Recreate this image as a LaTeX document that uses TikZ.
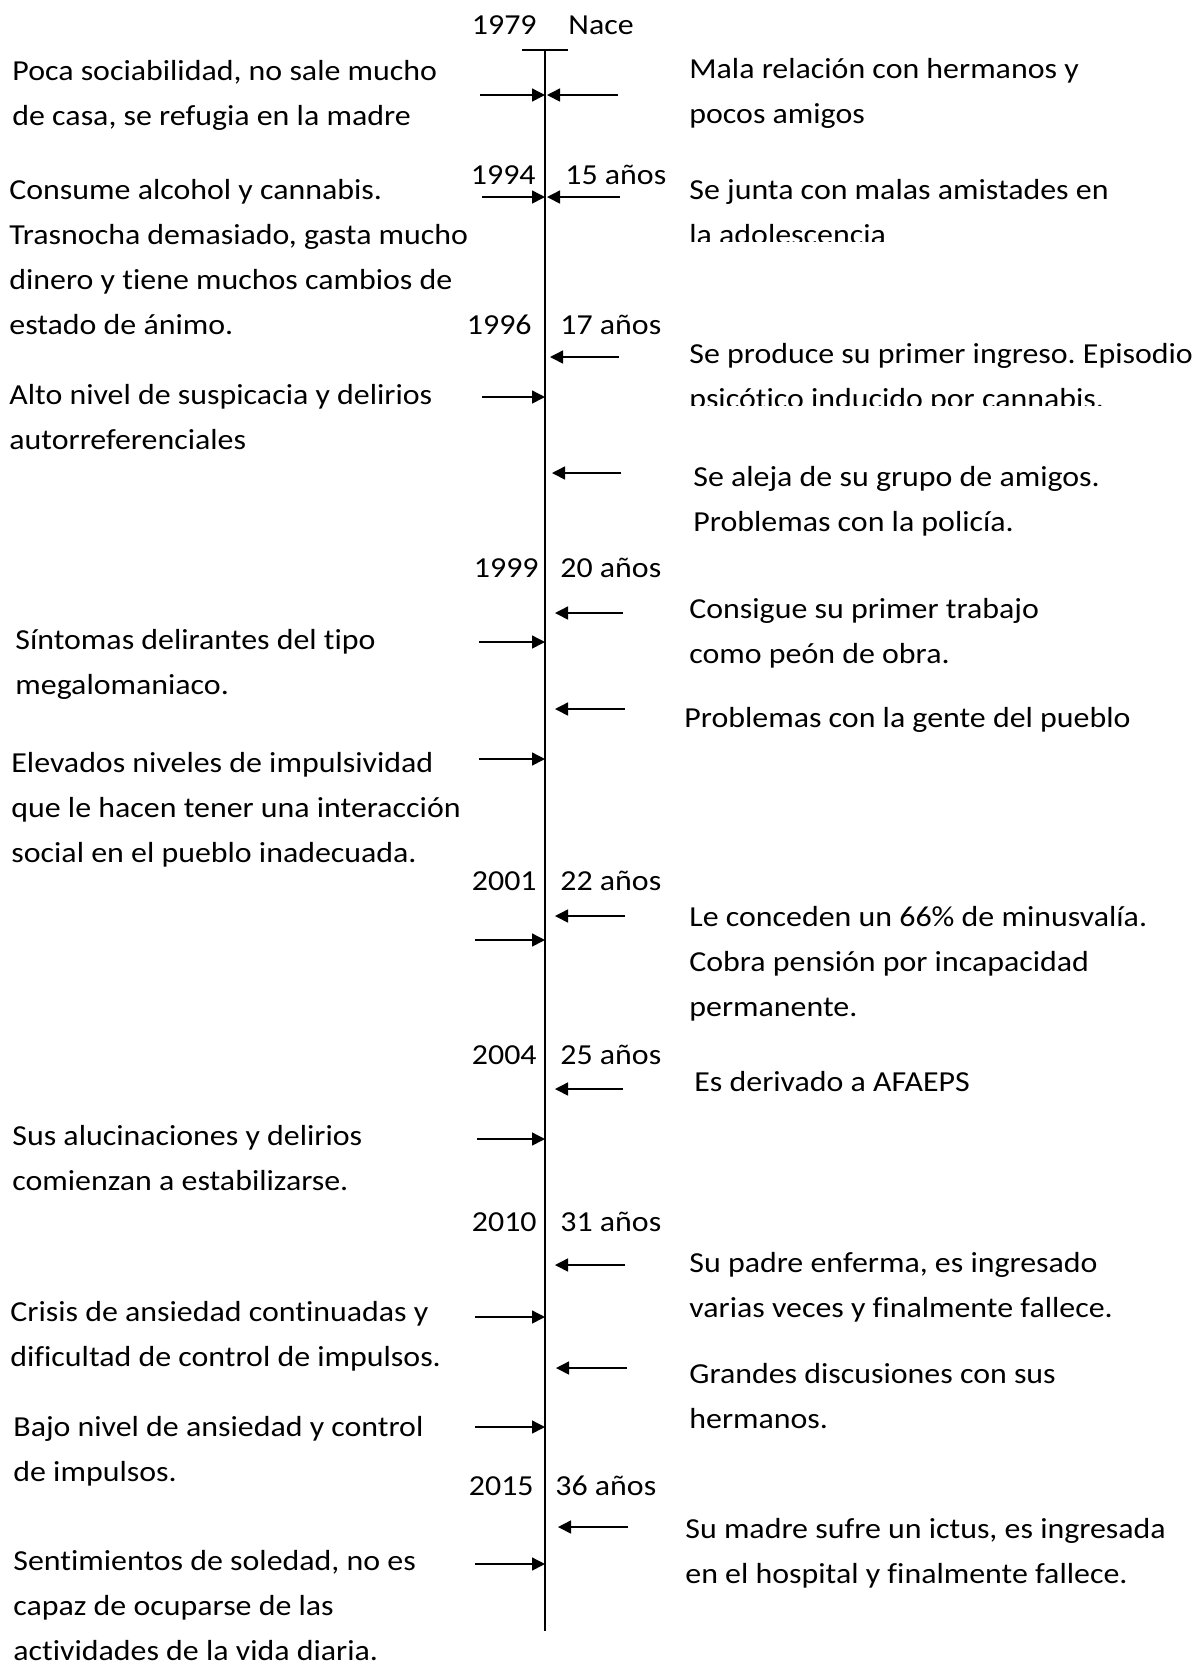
\documentclass[tikz,border=0pt]{standalone}
\usepackage{fontspec}
\setmainfont{Carlito}[FakeStretch=1.1,Ligatures={NoCommon}]
\usetikzlibrary{arrows.meta}
\frenchspacing
\newcommand{\blk}[1]{\parbox[t]{300pt}{\raggedright #1}}
\begin{document}
\begin{tikzpicture}[x=0.5pt,y=-0.5pt,
  txt/.style={anchor=base west,inner sep=0pt,font=\fontsize{14.5}{22.5}\selectfont},
  yr/.style={anchor=base east,inner sep=0pt,font=\fontsize{14.5}{22.5}\selectfont},
  evt/.style={line width=0.75pt,-{Triangle[length=6.5pt,width=6.5pt]}},
  axisline/.style={line width=1pt},
  tickline/.style={line width=0.6pt}]
\useasboundingbox (0,0) rectangle (1200,1662);
% axis
\coordinate (top) at (545,50);
\coordinate (bot) at (545,1631);
\coordinate (tl) at (522,50);
\coordinate (tr) at (568,50);
\draw[axisline] (top) -- (bot);
\draw[tickline] (tl) -- (tr);
% years and ages
\node[yr] (y1979) at (537,34) {1979};
\node[txt] (a1979) at (568,34) {Nace};
\node[yr] (y1994) at (536,184) {1994};
\node[txt] (a1994) at (565,184) {15 años};
\node[yr] (y1996) at (532,334) {1996};
\node[txt] (a1996) at (560,334) {17 años};
\node[yr] (y1999) at (539,577) {1999};
\node[txt] (a1999) at (560,577) {20 años};
\node[yr] (y2001) at (537,890) {2001};
\node[txt] (a2001) at (560,890) {22 años};
\node[yr] (y2004) at (537,1064) {2004};
\node[txt] (a2004) at (560,1064) {25 años};
\node[yr] (y2010) at (537,1231) {2010};
\node[txt] (a2010) at (560,1231) {31 años};
\node[yr] (y2015) at (534,1495) {2015};
\node[txt] (a2015) at (555,1495) {36 años};
% left texts
\node[txt] (l1) at (12,80) {\blk{Poca sociabilidad, no sale mucho\\de casa, se refugia en la madre}};
\node[txt] (l2) at (9,199) {\blk{Consume alcohol y cannabis.\\Trasnocha demasiado, gasta mucho\\dinero y tiene muchos cambios de\\estado de ánimo.}};
\node[txt] (l3) at (9,404) {\blk{Alto nivel de suspicacia y delirios\\autorreferenciales}};
\node[txt] (l4) at (15,649) {\blk{Síntomas delirantes del tipo\\megalomaniaco.}};
\node[txt] (l5) at (11,772) {\blk{Elevados niveles de impulsividad\\que le hacen tener una interacción\\social en el pueblo inadecuada.}};
\node[txt] (l6) at (12,1145) {\blk{Sus alucinaciones y delirios\\comienzan a estabilizarse.}};
\node[txt] (l7) at (10,1321) {\blk{Crisis de ansiedad continuadas y\\dificultad de control de impulsos.}};
\node[txt] (l8) at (13,1436) {\blk{Bajo nivel de ansiedad y control\\de impulsos.}};
\node[txt] (l9) at (13,1570) {\blk{Sentimientos de soledad, no es\\capaz de ocuparse de las\\actividades de la vida diaria.}};
% right texts
\node[txt] (r1) at (689,78) {\blk{Mala relación con hermanos y\\pocos amigos}};
\begin{scope}
\clip (680,150) rectangle (1200,241);
\node[txt] (r2) at (689,199) {\blk{Se junta con malas amistades en\\la adolescencia}};
\end{scope}
\begin{scope}
\clip (680,320) rectangle (1200,405);
\node[txt] (r3) at (689,363) {\blk{Se produce su primer ingreso. Episodio\\psicótico inducido por cannabis.}};
\end{scope}
\node[txt] (r4) at (693,486) {\blk{Se aleja de su grupo de amigos.\\Problemas con la policía.}};
\node[txt] (r5) at (689,618) {\blk{Consigue su primer trabajo\\como peón de obra.}};
\node[txt] (r6) at (684,727) {\blk{Problemas con la gente del pueblo}};
\node[txt] (r7) at (689,926) {\blk{Le conceden un 66\% de minusvalía.\\Cobra pensión por incapacidad\\permanente.}};
\node[txt] (r8) at (694,1091) {\blk{Es derivado a AFAEPS}};
\node[txt] (r9) at (689,1272) {\blk{Su padre enferma, es ingresado\\varias veces y finalmente fallece.}};
\node[txt] (r10) at (689,1383) {\blk{Grandes discusiones con sus\\hermanos.}};
\node[txt] (r11) at (685,1538) {\blk{Su madre sufre un ictus, es ingresada\\en el hospital y finalmente fallece.}};
% arrows from the left
\foreach \n/\y/\xs in {1/95/480, 2/197/482, 3/397/482, 4/642/479, 5/759/479, 6/940/475, 7/1139/477, 8/1317/475, 9/1427/475, 10/1564/475}{
  \coordinate (ls\n) at (\xs,\y);
  \coordinate (le\n) at (545,\y);
  \draw[evt] (ls\n) -- (le\n);
}
% arrows from the right
\foreach \n/\y/\xs/\xe in {1/95/618/547, 2/197/620/547, 3/357/619/550, 4/473/621/552, 5/613/623/555, 6/709/625/555, 7/916/625/555, 8/1089/623/555, 9/1265/625/555, 10/1368/627/556, 11/1527/628/558}{
  \coordinate (rs\n) at (\xs,\y);
  \coordinate (re\n) at (\xe,\y);
  \draw[evt] (rs\n) -- (re\n);
}
\end{tikzpicture}
\end{document}
